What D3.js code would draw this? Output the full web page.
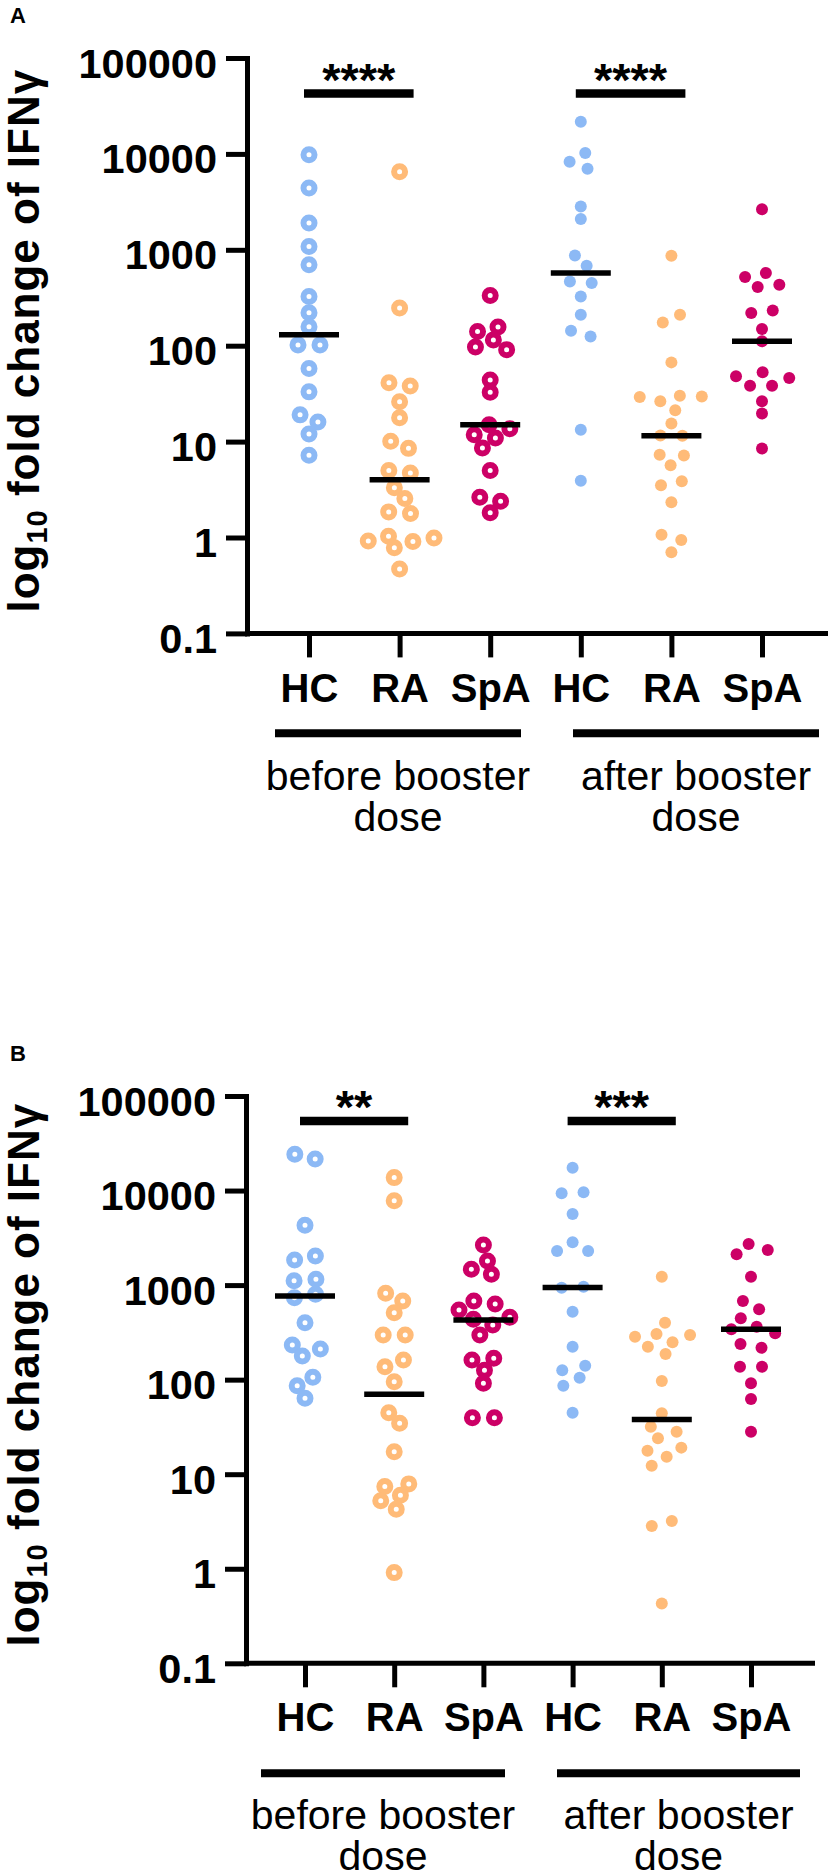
<!DOCTYPE html>
<html>
<head>
<meta charset="utf-8">
<style>
    body { margin: 0; background: #fff; }
    svg { display: block; font-family: "Liberation Sans", Arial, sans-serif; }
    .axis path, .axis line { stroke: #000; stroke-width: 5; }
    .axis path { stroke-linecap: square; }
    .y.axis text { font-size: 41.5px; font-weight: bold; fill: #000; }
    .x.axis text { font-size: 40px; font-weight: bold; fill: #000; }
    .title { font-size: 44px; font-weight: bold; letter-spacing: 1px; }
    .phase { font-size: 41px; }
    .letter { font-size: 22px; font-weight: bold; }
    .stars { font-size: 47px; font-weight: bold; }
</style>
</head>
<body>
<svg width="828" height="1875"></svg>

<script src="https://d3js.org/d3.v7.min.js"></script>
<script>
    // categories
    let groupKeys = ["beforeHC", "beforeRA", "beforeSpA", "afterHC", "afterRA", "afterSpA"]
    let groupLabels = ["HC", "RA", "SpA", "HC", "RA", "SpA"]
    let phaseLabels = [["before booster", "dose"], ["after booster", "dose"]]
    let yTicks = [0.1, 1, 10, 100, 1000, 10000, 100000]
    let yTickLabels = ["0.1", "1", "10", "100", "1000", "10000", "100000"]

    // panel A - fold change values
    let aBeforeHC = [9800, 4400, 1900, 1080, 700, 325, 220, 158, 102, 102, 58, 33, 19, 16, 12, 7.2]
    let aBeforeRA = [6500, 247, 41, 38, 26, 17.7, 10.1, 8.5, 5.0, 4.7, 3.3, 2.55, 1.85, 1.78, 1.03, 0.99, 0.92, 0.91, 0.78, 0.47]
    let aBeforeSpA = [334, 157, 141, 115, 97, 91, 44, 32.7, 15, 13.6, 11.8, 10.9, 8.6, 5.0, 2.63, 2.39, 1.81]
    let aAfterHC = [21700, 10200, 8300, 7000, 2830, 2100, 873, 681, 468, 450, 326, 210, 143, 125, 13.3, 3.9]
    let aAfterRA = [866, 210, 175, 67, 30.1, 29.6, 29.2, 26.3, 21.2, 15.4, 11.6, 11.5, 7.3, 7.15, 5.66, 3.86, 3.51, 2.33, 1.07, 0.94, 0.70]
    let aAfterSpA = [2650, 572, 520, 432, 409, 233, 219, 149, 111, 53, 48, 46, 38.3, 38.3, 26.3, 19.6, 8.45]
    let aMedians = [130, 4.0, 15, 574, 11.5, 111]
    let aSignif = ["****", "****"]

    // panel B
    let bBeforeHC = [24200, 21600, 4300, 2030, 1840, 1150, 1110, 800, 736, 400, 232, 211, 178, 106, 86, 63.5]
    let bBeforeRA = [13700, 7800, 819, 679, 511, 297, 297, 161, 137, 95, 44.7, 34.5, 17.3, 7.9, 7.4, 6.0, 5.25, 4.25, 0.91]
    let bBeforeSpA = [2650, 1800, 1470, 1300, 679, 631, 545, 456, 435, 378, 297, 168, 161, 126, 91.5, 39.6, 39.6]
    let bAfterHC = [17450, 9580, 9350, 5650, 2840, 2300, 2300, 962, 939, 523, 223, 140, 126, 105, 86, 44.7]
    let bAfterRA = [1227, 400, 304, 297, 285, 248, 223, 187, 96.8, 44.1, 31.8, 28.1, 24.0, 19.1, 17.7, 15.3, 12.3, 3.2, 2.83, 0.43]
    let bAfterSpA = [2720, 2350, 2120, 1227, 679, 555, 446, 363, 341, 309, 238, 218, 137, 137, 91.5, 62.4, 28.1]
    let bMedians = [767, 70, 428, 945, 38, 341]
    let bSignif = ["**", "***"]

    let colors = ["#8CB9F5", "#FFBB78", "#CC0066", "#8CB9F5", "#FFBB78", "#CC0066"]

    let panels = [
        {
            letter: "A", series: [aBeforeHC, aBeforeRA, aBeforeSpA, aAfterHC, aAfterRA, aAfterSpA],
            medians: aMedians, signif: aSignif,
            top: 58, bottom: 633.4, axisX: 247, axisEnd: 828, col0: 309, col5: 762,
            sigY: 93.5, labelPad: 16.6, barY: 733.3, bars: [[275, 521], [573, 819]], phaseY: 790
        },
        {
            letter: "B", series: [bBeforeHC, bBeforeRA, bBeforeSpA, bAfterHC, bAfterRA, bAfterSpA],
            medians: bMedians, signif: bSignif,
            top: 1096, bottom: 1663.3, axisX: 246, axisEnd: 815, col0: 305, col5: 751,
            sigY: 1120.9, labelPad: 15, barY: 1773.3, bars: [[261, 505], [557, 800]], phaseY: 1829
        }
    ]

    let svg = d3.select("svg")

    // simple beeswarm: y fixed, x pulled to the column, squashed collision
    function swarm(values, cx, y) {
        let k = 1.8
        let nodes = values.map((v, i) => ({ v: v, x: cx + (i % 2 ? 0.3 : -0.3), y: y(v) * k, fy: y(v) * k }))
        let sim = d3.forceSimulation(nodes)
            .force("x", d3.forceX(cx).strength(0.15))
            .force("collide", d3.forceCollide(11).strength(1).iterations(3))
            .stop()
        for (let i = 0; i < 300; i++) sim.tick()
        return nodes.map(n => ({ v: n.v, x: n.x }))
    }

    panels.forEach(p => {
        let g = svg.append("g")

        let y = d3.scaleLog()
            .domain([0.1, 100000])
            .range([p.bottom, p.top])

        let x = d3.scalePoint()
            .domain(groupKeys)
            .range([p.col0, p.col5])

        // y axis
        g.append("g")
            .attr("class", "y axis")
            .attr("transform", `translate(${p.axisX},0)`)
            .call(d3.axisLeft(y)
                .tickValues(yTicks)
                .tickFormat((d, i) => yTickLabels[i])
                .tickSize(21)
                .tickSizeOuter(0)
                .tickPadding(9))
            .call(a => a.selectAll("text").attr("dy", "0.46em"))

        // x axis
        g.append("g")
            .attr("class", "x axis")
            .attr("transform", `translate(0,${p.bottom})`)
            .call(d3.axisBottom(x)
                .tickFormat((d, i) => groupLabels[i])
                .tickSize(24)
                .tickSizeOuter(0)
                .tickPadding(p.labelPad))
            .call(a => a.select(".domain").remove())

        g.append("line")
            .attr("x1", p.axisX).attr("x2", p.axisEnd)
            .attr("y1", p.bottom).attr("y2", p.bottom)
            .attr("stroke", "#000").attr("stroke-width", 5)

        // points
        groupKeys.forEach((key, gi) => {
            let pts = swarm(p.series[gi], x(key), y)
            let open = gi < 3
            g.append("g")
                .selectAll("circle")
                .data(pts)
                .join("circle")
                .attr("cx", d => d.x)
                .attr("cy", d => y(d.v))
                .attr("r", open ? 5.5 : 6)
                .attr("fill", open ? "#fff" : colors[gi])
                .attr("stroke", open ? colors[gi] : "none")
                .attr("stroke-width", open ? 6 : 0)
        })

        // medians
        g.append("g")
            .selectAll("line")
            .data(p.medians)
            .join("line")
            .attr("x1", (d, i) => x(groupKeys[i]) - 30)
            .attr("x2", (d, i) => x(groupKeys[i]) + 30)
            .attr("y1", d => y(d))
            .attr("y2", d => y(d))
            .attr("stroke", "#000")
            .attr("stroke-width", 5.5)

        // significance bars (HC vs RA)
        let pairs = [["beforeHC", "beforeRA"], ["afterHC", "afterRA"]]
        pairs.forEach((pr, i) => {
            let x1 = x(pr[0]) - 5
            let x2 = x(pr[1]) + 14
            g.append("line")
                .attr("x1", x1).attr("x2", x2)
                .attr("y1", p.sigY).attr("y2", p.sigY)
                .attr("stroke", "#000").attr("stroke-width", 8.5)
            g.append("text")
                .attr("class", "stars")
                .attr("x", (x1 + x2) / 2)
                .attr("y", p.sigY + 2)
                .attr("text-anchor", "middle")
                .text(p.signif[i])
        })

        // phase bars and labels
        p.bars.forEach((b, i) => {
            g.append("line")
                .attr("x1", b[0]).attr("x2", b[1])
                .attr("y1", p.barY).attr("y2", p.barY)
                .attr("stroke", "#000").attr("stroke-width", 8)
            let t = g.append("text")
                .attr("class", "phase")
                .attr("text-anchor", "middle")
            phaseLabels[i].forEach((line, li) => {
                t.append("tspan")
                    .attr("x", (b[0] + b[1]) / 2)
                    .attr("y", p.phaseY + li * 41)
                    .text(line)
            })
        })

        // y title
        let mid = (p.top + p.bottom) / 2 - 5
        let title = g.append("text")
            .attr("class", "title")
            .attr("text-anchor", "middle")
            .attr("transform", `translate(39,${mid}) rotate(-90)`)
        title.append("tspan").text("log")
        title.append("tspan").attr("font-size", 29).attr("dy", 8).text("10")
        title.append("tspan").attr("dy", -8).text(" fold change of IFNγ")

        // panel letter
        g.append("text")
            .attr("class", "letter")
            .attr("x", 10)
            .attr("y", p.top - 35)
            .text(p.letter)
    })
</script>
</body>
</html>
